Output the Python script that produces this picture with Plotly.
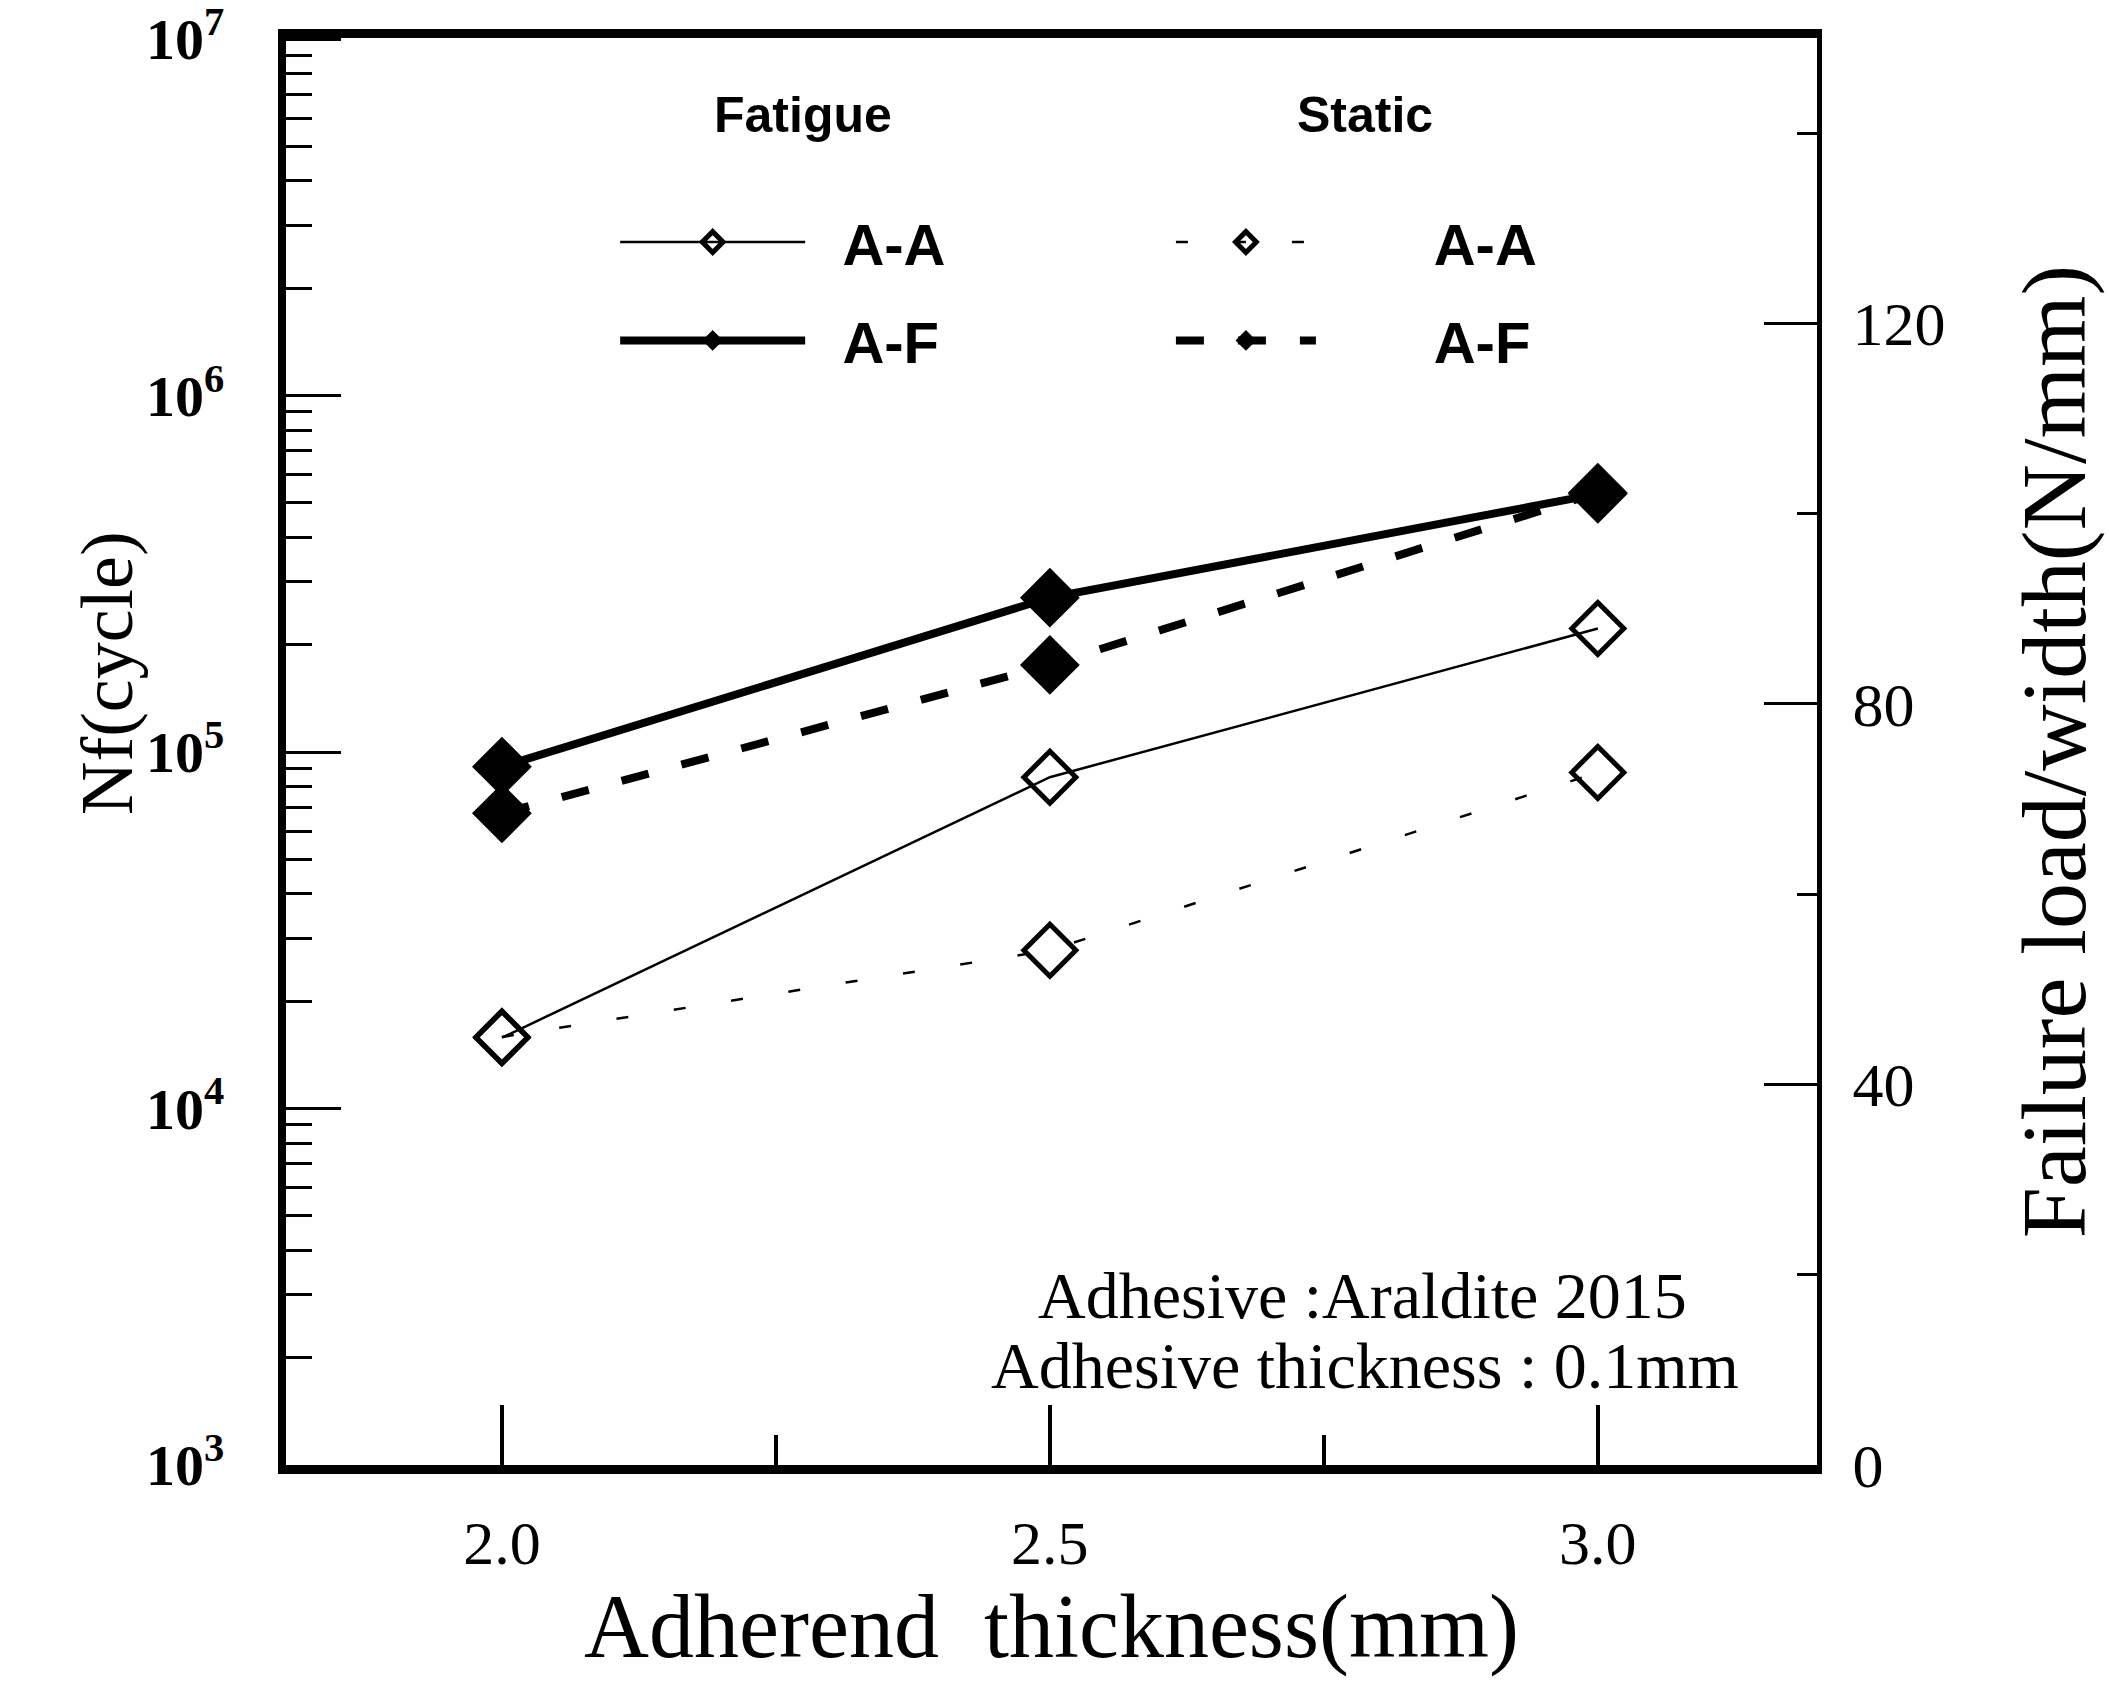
import plotly.graph_objects as go

# ---- data ----
thickness = [2.0, 2.5, 3.0]
fatigue_AA = [1.58e4, 8.5e4, 2.22e5]      # Nf (cycles), left log axis
fatigue_AF = [9.1e4, 2.71e5, 5.3e5]
static_AA = [45.0, 54.1, 72.8]            # failure load/width (N/mm), right axis
static_AF = [68.5, 84.1, 102.2]

x_ticks = [2.0, 2.5, 3.0]
x_ticktext = ["2.0", "2.5", "3.0"]
x_minor = [2.25, 2.75]
y_ticks = [1e3, 1e4, 1e5, 1e6, 1e7]
y_ticktext = ["10<sup>3</sup>", "10<sup>4</sup>", "10<sup>5</sup>", "10<sup>6</sup>", "10<sup>7</sup>"]
y2_ticks = [0, 40, 80, 120]
y2_minor = [20, 60, 100, 140]

serif = "Liberation Serif"
sans = "Liberation Sans"
pad_f = "\u00a0\u00a0"
pad_s = "\u00a0" * 7

fig = go.Figure()

fig.add_trace(go.Scatter(
    x=thickness, y=fatigue_AA, name=pad_f + "A-A", legend="legend", legendgroup="fa",
    mode="lines+markers",
    line=dict(color="black", width=2.5),
    marker=dict(symbol="diamond-open", size=40, color="black", line=dict(width=5)),
))
fig.add_trace(go.Scatter(
    x=thickness, y=fatigue_AF, name=pad_f + "A-F", legend="legend", legendgroup="fb",
    mode="lines+markers",
    line=dict(color="black", width=8),
    marker=dict(symbol="diamond", size=46, color="black"),
))
fig.add_trace(go.Scatter(
    x=thickness, y=static_AA, name=pad_s + "A-A", legend="legend2", legendgroup="sa",
    mode="lines+markers", yaxis="y2",
    line=dict(color="black", width=2.5, dash="12px,46px"),
    marker=dict(symbol="diamond-open", size=40, color="black", line=dict(width=5)),
))
fig.add_trace(go.Scatter(
    x=thickness, y=static_AF, name=pad_s + "A-F", legend="legend2", legendgroup="sb",
    mode="lines+markers", yaxis="y2",
    line=dict(color="black", width=8, dash="28px,34px"),
    marker=dict(symbol="diamond", size=46, color="black"),
))

legend_common = dict(
    font=dict(family=sans, size=58, color="black", weight="bold"),
    bgcolor="rgba(0,0,0,0)", tracegroupgap=20,
    xanchor="left", yanchor="top", itemclick=False, y=0.888,
)

fig.update_layout(
    width=2109, height=1685,
    paper_bgcolor="white", plot_bgcolor="white",
    margin=dict(l=286, r=292, t=38, b=220, autoexpand=False),
    showlegend=True,
    legend=dict(x=0.215, itemwidth=185, **legend_common),
    legend2=dict(x=0.578, itemwidth=140, **legend_common),
    xaxis=dict(
        range=[1.803, 3.2], showline=True, linecolor="black", linewidth=9, mirror=True,
        tickvals=x_ticks, ticktext=x_ticktext, ticks="inside", ticklen=60, tickwidth=4,
        tickcolor="black", showgrid=False, zeroline=False, automargin=False,
        tickfont=dict(family=serif, size=62, color="black"), ticklabelstandoff=16,
        minor=dict(tickvals=x_minor, ticks="inside", ticklen=30, tickwidth=4, tickcolor="black", showgrid=False),
        title=dict(text="Adherend  thickness(mm)", font=dict(family=serif, size=90, color="black"), standoff=20),
    ),
    yaxis=dict(
        type="log", range=[3, 7.003], showline=True, linecolor="black", linewidth=8,
        tickvals=y_ticks, ticktext=y_ticktext, ticks="inside", ticklen=55, tickwidth=3,
        tickcolor="black", showgrid=False, zeroline=False, ticklabeloverflow="allow",
        automargin=False,
        tickfont=dict(family=serif, size=58, color="black", weight="bold"), ticklabelstandoff=42,
        minor=dict(dtick="D1", ticks="inside", ticklen=26, tickwidth=3, tickcolor="black", showgrid=False),
    ),
    yaxis2=dict(
        overlaying="y", side="right", range=[0, 150], showline=True, linecolor="black", linewidth=5,
        tickvals=y2_ticks, ticks="inside", ticklen=53, tickwidth=3, tickcolor="black",
        showgrid=False, zeroline=False, ticklabeloverflow="allow", automargin=False,
        tickfont=dict(family=serif, size=62, color="black"), ticklabelstandoff=18,
        minor=dict(tickvals=y2_minor, ticks="inside", ticklen=20, tickwidth=3, tickcolor="black", showgrid=False),
        title=dict(text="Failure load/width(N/mm)", font=dict(family=serif, size=92, color="black"), standoff=78),
    ),
    annotations=[
        dict(text="Nf(cycle)", xref="paper", yref="paper", x=-0.117, y=0.555,
             textangle=-90, showarrow=False, xanchor="center", yanchor="middle",
             font=dict(family=serif, size=74, color="black")),
        dict(text="Fatigue", xref="paper", yref="paper", x=0.338, y=0.946,
             showarrow=False, xanchor="center", yanchor="middle",
             font=dict(family=sans, size=50, color="black", weight="bold")),
        dict(text="Static", xref="paper", yref="paper", x=0.705, y=0.946,
             showarrow=False, xanchor="center", yanchor="middle",
             font=dict(family=sans, size=50, color="black", weight="bold")),
        dict(text="Adhesive :Araldite 2015", xref="paper", yref="paper", x=0.703, y=0.119,
             showarrow=False, xanchor="center", yanchor="middle",
             font=dict(family=serif, size=66, color="black")),
        dict(text="Adhesive thickness : 0.1mm", xref="paper", yref="paper", x=0.705, y=0.07,
             showarrow=False, xanchor="center", yanchor="middle",
             font=dict(family=serif, size=66, color="black")),
    ],
)

fig.write_html("out.html")
